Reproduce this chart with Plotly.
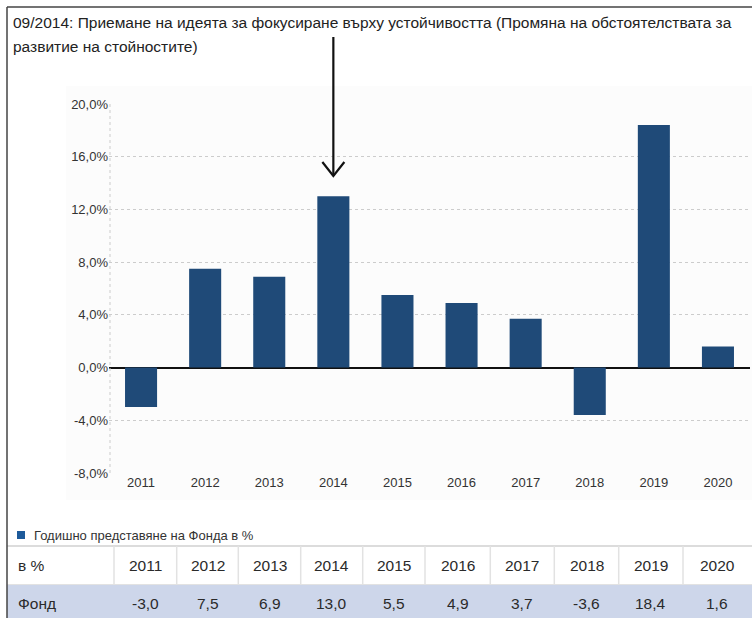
import plotly.graph_objects as go

years = [2011, 2012, 2013, 2014, 2015, 2016, 2017, 2018, 2019, 2020]
fund = [-3.0, 7.5, 6.9, 13.0, 5.5, 4.9, 3.7, -3.6, 18.4, 1.6]
y_ticks = [-8, -4, 0, 4, 8, 12, 16, 20]
y_tick_labels = ["-8,0%", "-4,0%", "0,0%", "4,0%", "8,0%", "12,0%", "16,0%", "20,0%"]
title_line1 = "09/2014: Приемане на идеята за фокусиране върху устойчивостта (Промяна на обстоятелствата за"
title_line2 = "развитие на стойностите)"
legend_name = "Годишно представяне на Фонда в %"
row_header = "в %"
row_name = "Фонд"
marked_year = 2014

W, H = 752, 618
BAR = "#1f4a78"
LEG = "#1d5a9a"
FONT = "Liberation Sans"
TXT = "#2a2a2a"

xdom = [109 / W, 750 / W]
ydom = [(H - 473) / H, (H - 104) / H]

# table layout (pixels)
col_widths = [107, 62.7, 61.6, 62.4, 62, 62.3, 65.3, 64, 64.4, 64.3, 69]
tbl_left, tbl_top, hdr_bottom, tbl_bottom = 7, 546, 585, 618


def px(p):
    return p / W


def py(p):
    return 1 - p / H


def fmt(v):
    return f"{v:.1f}".replace(".", ",")


fig = go.Figure()
fig.add_trace(go.Bar(
    x=[str(y) for y in years], y=fund, name=legend_name,
    marker=dict(color=BAR, line=dict(width=0)), width=0.5,
    showlegend=False, hoverinfo="x+y",
))

n = len(years)
idx = years.index(marked_year)
ax = xdom[0] + (idx + 0.5) / n * (xdom[1] - xdom[0])
hw = 11 / W
shapes = [
    # faint chart background
    dict(type="rect", xref="paper", yref="paper", x0=px(66), x1=1, y0=py(500), y1=py(86),
         fillcolor="#fcfcfc", line=dict(width=0), layer="below"),
    # arrow
    dict(type="line", xref="paper", yref="paper", x0=ax, x1=ax, y0=py(37), y1=py(176),
         line=dict(color="#111", width=2.2)),
    dict(type="path", xref="paper", yref="paper",
         path=f"M {ax-hw},{py(162)} L {ax},{py(176)} L {ax+hw},{py(162)}",
         line=dict(color="#111", width=2.2)),
    # frame
    dict(type="line", xref="paper", yref="paper", x0=px(7), x1=1, y0=py(7), y1=py(7),
         line=dict(color="#444", width=1.5)),
    # dotted left axis line
    dict(type="line", xref="paper", yref="paper", x0=xdom[0] + 1 / W, x1=xdom[0] + 1 / W,
         y0=ydom[0], y1=ydom[1], line=dict(color="#cccccc", width=1, dash="dot")),
    # legend swatch
    dict(type="rect", xref="paper", yref="paper", x0=px(17), x1=px(25), y0=py(539), y1=py(531),
         fillcolor=LEG, line=dict(width=0)),
]

annotations = [
    dict(text=title_line1, xref="paper", yref="paper", x=px(11), y=py(22),
         xanchor="left", yanchor="middle", align="left", showarrow=False,
         font=dict(family=FONT, size=15.5, color="#222")),
    dict(text=title_line2, xref="paper", yref="paper", x=px(11), y=py(46),
         xanchor="left", yanchor="middle", align="left", showarrow=False,
         font=dict(family=FONT, size=15.5, color="#222")),
    dict(text=legend_name, xref="paper", yref="paper", x=px(32), y=py(535),
         xanchor="left", yanchor="middle", align="left", showarrow=False,
         font=dict(family=FONT, size=13, color="#333")),
]

# table: rows and cells
shapes.append(dict(type="rect", xref="paper", yref="paper", x0=px(tbl_left), x1=1,
                   y0=py(tbl_bottom), y1=py(hdr_bottom), fillcolor="#cdd6ea",
                   line=dict(width=0)))
shapes.append(dict(type="line", xref="paper", yref="paper", x0=px(tbl_left), x1=1,
                   y0=py(tbl_top), y1=py(tbl_top), line=dict(color="#dcdcdc", width=2)))
shapes.append(dict(type="line", xref="paper", yref="paper", x0=px(tbl_left), x1=1,
                   y0=py(hdr_bottom - 0.5), y1=py(hdr_bottom - 0.5),
                   line=dict(color="#e2e2e2", width=1)))
header_cells = [row_header] + [str(y) for y in years]
data_cells = [row_name] + [fmt(v) for v in fund]
edge = tbl_left
for i, w in enumerate(col_widths):
    left, right = edge, edge + w
    if i > 0:
        shapes.append(dict(type="line", xref="paper", yref="paper", x0=px(left), x1=px(left),
                           y0=py(hdr_bottom), y1=py(tbl_top), line=dict(color="#e2e2e2", width=1.5)))
    if i == 0:
        xa, anc = px(left + 9), "left"
    else:
        xa, anc = px((left + right) / 2), "center"
    annotations.append(dict(text=header_cells[i], xref="paper", yref="paper", x=xa, y=py(565),
                            xanchor=anc, yanchor="middle", showarrow=False,
                            font=dict(family=FONT, size=15.5, color=TXT)))
    annotations.append(dict(text=data_cells[i], xref="paper", yref="paper", x=xa, y=py(603),
                            xanchor=anc, yanchor="middle", showarrow=False,
                            font=dict(family=FONT, size=15.5, color=TXT)))
    edge = right

# left frame line drawn last so it sits above the table fill
shapes.append(dict(type="line", xref="paper", yref="paper", x0=px(7), x1=px(7), y0=py(7), y1=0,
                   line=dict(color="#444", width=1.5)))

fig.update_layout(
    width=W, height=H, margin=dict(l=0, r=0, t=0, b=0, autoexpand=False),
    paper_bgcolor="white", plot_bgcolor="rgba(0,0,0,0)",
    font=dict(family=FONT, size=13, color="#333"),
    xaxis=dict(domain=xdom, type="category", showgrid=False, showline=False, automargin=False,
               ticks="", tickfont=dict(size=13, color="#333"), fixedrange=True),
    yaxis=dict(domain=ydom, range=[-8, 20], tickvals=y_ticks, ticktext=y_tick_labels,
               automargin=False, showgrid=True, gridcolor="#cccccc", griddash="dot",
               gridwidth=1, zeroline=True, zerolinecolor="#111", zerolinewidth=1.5,
               showline=False, ticks="", tickfont=dict(size=13, color="#333"), fixedrange=True),
    shapes=shapes,
    annotations=annotations,
    showlegend=False,
)

fig.write_html("out.html", config={"displayModeBar": False},
               post_script="document.body.style.margin='0';")
